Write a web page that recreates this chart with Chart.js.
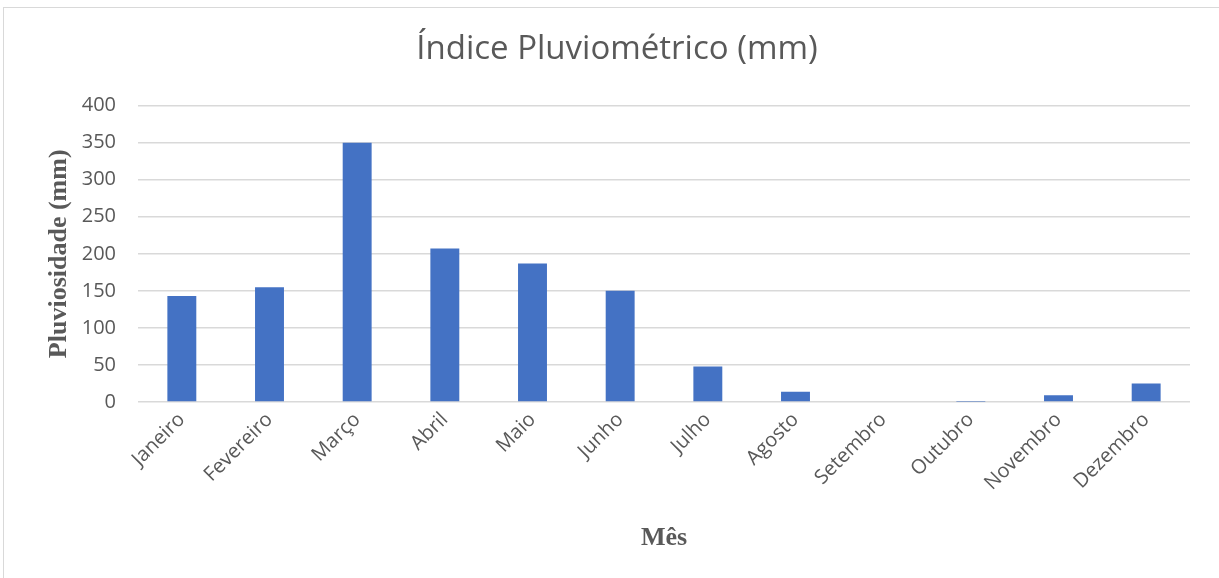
<!DOCTYPE html>
<html>
<head>
<meta charset="utf-8">
<script src="https://cdn.jsdelivr.net/npm/chart.js@4"></script>
<style>
  body { margin: 0; background: #fff; }
  #wrap { position: relative; width: 1219px; height: 578px; }
  #frame { position: absolute; left: 3px; top: 7px; width: 1230px; height: 580px; border: 1px solid #d9d9d9; }
  canvas { position: absolute; left: 0; top: 0; }
</style>
</head>
<body>
<div id="wrap">
  <div id="frame"></div>
  <canvas id="myRain" width="1219" height="578"></canvas>
</div>
<script>
const months = ["Janeiro", "Fevereiro", "Março", "Abril", "Maio", "Junho",
  "Julho", "Agosto", "Setembro", "Outubro", "Novembro", "Dezembro"];
const rainfall = [143, 155, 350, 207, 187, 150, 48, 14, 0, 0.5, 9, 25];
const yTicks = [0, 50, 100, 150, 200, 250, 300, 350, 400];

const textColor = "#595959";
const ctx = document.getElementById("myRain");

const myChart = new Chart(ctx, {
  type: "bar",
  data: {
    labels: months,
    datasets: [
      {
        label: "Pluviosidade",
        data: rainfall,
        backgroundColor: "#4472C4",
        barPercentage: 1,
        categoryPercentage: 0.33,
      },
    ],
  },
  options: {
    responsive: false,
    animation: false,
    layout: { padding: { left: 44, right: 29, top: 0, bottom: 24 } },
    plugins: {
      legend: { display: false },
      tooltip: { enabled: false },
      title: {
        display: true,
        text: "Índice Pluviométrico (mm)",
        color: textColor,
        font: { family: "Open Sans", size: 33, weight: 400 },
        padding: { top: 30, bottom: 36 },
      },
    },
    scales: {
      x: {
        grid: { display: false, drawTicks: false },
        border: { display: false },
        ticks: {
          color: textColor,
          font: { family: "Open Sans", size: 20 },
          minRotation: 45,
          maxRotation: 45,
          padding: 6,
        },
        title: {
          display: true,
          text: "Mês",
          color: textColor,
          font: { family: "Liberation Serif", size: 26, weight: "bold" },
          padding: 0,
        },
        afterFit: (scale) => {
          scale.height = 152;
        },
      },
      y: {
        min: 0,
        max: 400,
        afterBuildTicks: (scale) => {
          scale.ticks = yTicks.map((v) => ({ value: v }));
        },
        grid: { color: "#d9d9d9", lineWidth: 1.5, drawTicks: false },
        border: { display: false },
        ticks: {
          color: textColor,
          font: { family: "Open Sans", size: 20 },
          padding: 22,
        },
        title: {
          display: true,
          text: "Pluviosidade (mm)",
          color: textColor,
          font: { family: "Liberation Serif", size: 26, weight: "bold" },
          padding: 0,
        },
        afterFit: (scale) => {
          scale.width = 94;
        },
      },
    },
  },
});
</script>
</body>
</html>
